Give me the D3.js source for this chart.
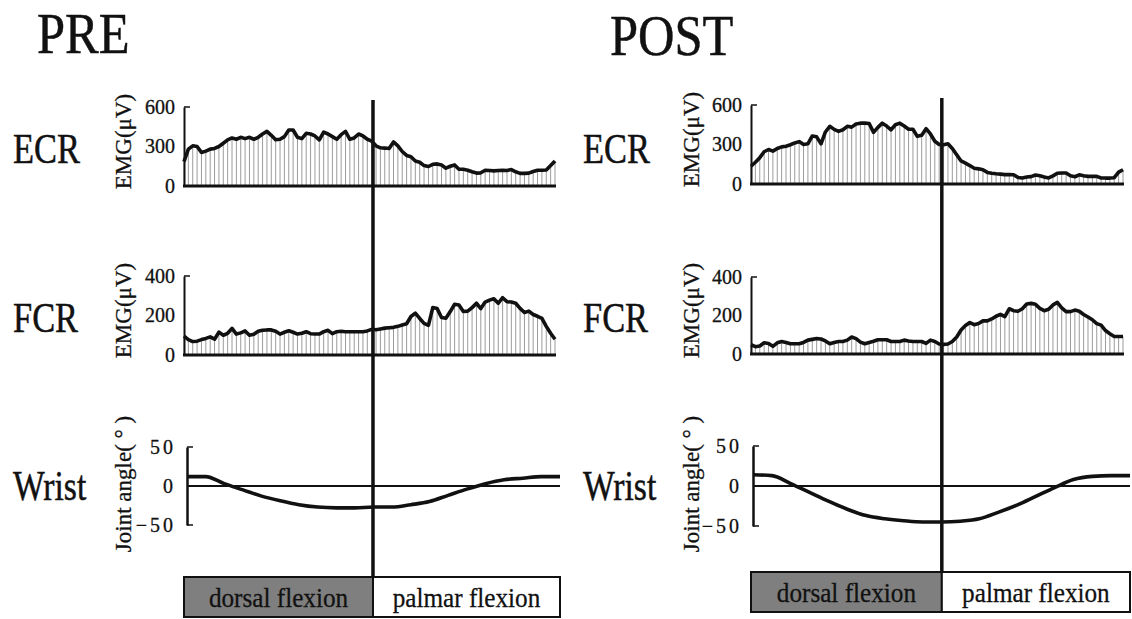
<!doctype html>
<html>
<head>
<meta charset="UTF-8">
<title>PRE / POST EMG</title>
<script src="https://d3js.org/d3.v7.min.js"></script>
<style>
  body { margin: 0; background: #fff; }
  text { font-family: "Liberation Serif", "Times New Roman", serif; fill: #111; }
</style>
</head>
<body>
<script>
// ---- data ----
var conditions = ["PRE", "POST"];
var muscles = ["ECR", "FCR", "Wrist"];
var phases = ["dorsal flexion", "palmar flexion"];
var ecrTicks = [0, 300, 600];
var fcrTicks = [0, 200, 400];
var angleTicks = [-50, 0, 50];

// EMG (µV), 86 samples over one movement cycle
var preECR = [185,280,305,300,255,265,280,285,300,325,350,365,355,370,360,370,355,370,395,415,
  385,352,355,375,425,425,370,360,400,395,380,350,410,395,375,355,390,415,355,365,
  395,380,355,340,305,290,288,285,335,305,262,232,222,190,180,155,148,165,168,160,
  135,150,160,127,127,120,108,98,100,120,118,115,118,120,118,125,108,96,96,98,
  110,120,120,122,155,190];
var preFCR = [96,78,68,70,78,84,92,80,116,100,110,135,106,112,122,100,105,120,125,127,
  127,120,106,115,123,115,106,110,118,108,106,106,118,125,108,118,120,118,118,118,
  118,118,122,130,128,132,136,138,140,145,152,158,195,212,185,160,150,240,235,190,
  186,220,257,253,220,222,240,262,235,268,278,285,262,290,270,268,262,236,215,222,
  205,196,185,145,110,80];
var postECR = [135,165,200,245,262,250,270,282,287,298,312,322,300,305,365,358,305,395,438,415,
  400,412,438,432,455,462,462,460,392,430,462,440,412,450,462,440,416,416,362,370,
  420,380,325,300,298,305,270,222,175,158,140,120,115,108,88,82,78,75,71,71,
  70,50,46,53,56,68,62,53,46,62,82,84,83,62,55,70,62,58,58,58,
  46,45,45,48,90,108];
var postFCR = [48,38,42,58,55,40,58,65,60,53,53,53,60,72,76,80,78,68,53,60,
  65,65,72,88,80,62,53,60,66,74,74,74,65,65,65,72,68,65,65,65,
  55,72,65,52,50,52,65,88,125,148,163,152,158,172,172,182,196,206,194,235,
  225,222,235,260,263,258,237,225,232,255,268,240,220,220,228,222,205,192,178,158,
  150,122,105,91,91,91];
// wrist joint angle (deg), 21 samples over the same cycle
var preWrist = [12,12,3,-5,-13,-19,-24,-27,-28,-28,-27,-27,-24,-20,-12,-4,3,8,10,12,12];
var postWrist = [14,13,3,-8,-19,-29,-37,-41,-43.5,-45,-45,-44,-41,-33,-24,-13,-2,8,12,13,13];
// sample index at which dorsal flexion turns into palmar flexion
var preSplit = 43.3, postSplit = 43.6;

// ---- layout ----
var W = 1132, H = 619;
var layout = [
  { title: "PRE", tx: 37, ty: 53, labelX: 13, axisTitleX: 123, tickEnd: 175,
    x0: 184, x1: 555, wx0: 187, wx1: 560,
    ecr: [186, 107], fcr: [355, 276], wrist: [525, 447],
    divTop: 100, boxTop: 577, boxRight: 560,
    ecrData: preECR, fcrData: preFCR, wristData: preWrist, split: preSplit },
  { title: "POST", tx: 610, ty: 55, labelX: 583, axisTitleX: 691, tickEnd: 742,
    x0: 751, x1: 1123, wx0: 753, wx1: 1130,
    ecr: [184, 105], fcr: [354, 277], wrist: [526, 446],
    divTop: 98, boxTop: 572, boxRight: 1130,
    ecrData: postECR, fcrData: postFCR, wristData: postWrist, split: postSplit }
];

var svg = d3.select("body").append("svg").attr("width", W).attr("height", H);

function label(g, txt, x, y, size, sx, anchor) {
  return g.append("text")
    .attr("transform", "translate(" + x + "," + y + ") scale(" + sx + ",1)")
    .attr("font-size", size)
    .attr("text-anchor", anchor || "start")
    .attr("stroke", "#111").attr("stroke-width", 0.5)
    .text(txt);
}

function yTitle(g, txt, x, y, size) {
  g.append("text")
    .attr("transform", "translate(" + x + "," + y + ") rotate(-90)")
    .attr("font-size", size)
    .attr("text-anchor", "middle")
    .attr("dominant-baseline", "central")
    .attr("stroke", "#111").attr("stroke-width", 0.3)
    .text(txt);
}

function emgPanel(g, L, data, px, ticks, muscle, labelY) {
  var n = data.length;
  var x = d3.scaleLinear().domain([0, n - 1]).range([L.x0, L.x1]);
  var y = d3.scaleLinear().domain([0, ticks[ticks.length - 1]]).range(px);

  // hatch
  g.append("g").selectAll("line").data(data).join("line")
    .attr("x1", function(d, i) { return x(i); })
    .attr("x2", function(d, i) { return x(i); })
    .attr("y1", y(0))
    .attr("y2", function(d) { return y(d); })
    .attr("stroke", "#9c9c9c").attr("stroke-width", 1);

  var ax = d3.axisLeft(y).tickValues(ticks).tickSize(0).tickPadding(L.x0 - L.tickEnd);
  var a = g.append("g").attr("transform", "translate(" + L.x0 + ",0)").call(ax);
  a.select(".domain").attr("stroke", "#111").attr("stroke-width", 2);
  a.selectAll("text").attr("font-size", 20).attr("font-family", "Liberation Serif, serif")
    .attr("fill", "#111").attr("stroke", "#111").attr("stroke-width", 0.3);
  g.append("line").attr("x1", L.x0).attr("x2", L.x0 + 6)
    .attr("y1", y(ticks[ticks.length - 1])).attr("y2", y(ticks[ticks.length - 1]))
    .attr("stroke", "#111").attr("stroke-width", 1.5);

  g.append("path").datum(data)
    .attr("d", d3.line().x(function(d, i) { return x(i); }).y(function(d) { return y(d); }))
    .attr("fill", "none").attr("stroke", "#111").attr("stroke-width", 3.6)
    .attr("stroke-linejoin", "round");

  // baseline
  g.append("line").attr("x1", L.x0 - 1).attr("x2", L.x1 + 1)
    .attr("y1", y(0)).attr("y2", y(0))
    .attr("stroke", "#111").attr("stroke-width", 3);

  label(g, muscle, L.labelX, labelY, 42, 0.82);
  yTitle(g, "EMG(\u03bcV)", L.axisTitleX, (px[0] + px[1]) / 2 - 5, 23);
  return x;
}

layout.forEach(function(L) {
  var g = svg.append("g");
  label(g, L.title, L.tx, L.ty, 58, 0.87);

  var xe = emgPanel(g, L, L.ecrData, L.ecr, ecrTicks, muscles[0], 163);
  emgPanel(g, L, L.fcrData, L.fcr, fcrTicks, muscles[1], 332);

  // wrist angle
  var wd = L.wristData;
  var xw = d3.scaleLinear().domain([0, wd.length - 1]).range([L.wx0, L.wx1]);
  var yw = d3.scaleLinear().domain([-50, 50]).range(L.wrist);
  var ax = d3.axisLeft(yw).tickValues(angleTicks).tickSize(0).tickPadding(L.x0 - L.tickEnd + 2);
  var a = g.append("g").attr("transform", "translate(" + L.wx0 + ",0)").call(ax);
  a.select(".domain").attr("stroke", "#111").attr("stroke-width", 2.5);
  a.selectAll("text").attr("font-size", 20).attr("letter-spacing", 3)
    .attr("font-family", "Liberation Serif, serif").attr("fill", "#111")
    .attr("stroke", "#111").attr("stroke-width", 0.3);
  g.selectAll(null).data([-50, 50]).enter().append("line")
    .attr("x1", L.wx0).attr("x2", L.wx0 + 6)
    .attr("y1", function(d) { return yw(d); }).attr("y2", function(d) { return yw(d); })
    .attr("stroke", "#111").attr("stroke-width", 1.5);
  g.append("line").attr("x1", L.wx0).attr("x2", L.wx1)
    .attr("y1", yw(0)).attr("y2", yw(0)).attr("stroke", "#111").attr("stroke-width", 2);
  g.append("path").datum(wd)
    .attr("d", d3.line().curve(d3.curveMonotoneX)
      .x(function(d, i) { return xw(i); }).y(function(d) { return yw(d); }))
    .attr("fill", "none").attr("stroke", "#111").attr("stroke-width", 3.6);
  label(g, muscles[2], L.labelX, 500, 42, 0.8);
  yTitle(g, "Joint angle(  \u00b0  )", L.axisTitleX, 484, 23);

  // phase boxes
  var xs = xe(L.split);
  var boxes = [
    { name: phases[0], x: L.x0, w: xs - L.x0, fill: "#7f7f7f" },
    { name: phases[1], x: xs, w: L.boxRight - xs, fill: "#fff" }
  ];
  g.selectAll(null).data(boxes).enter().append("rect")
    .attr("x", function(d) { return d.x; }).attr("y", L.boxTop)
    .attr("width", function(d) { return d.w; }).attr("height", 40)
    .attr("fill", function(d) { return d.fill; })
    .attr("stroke", "#111").attr("stroke-width", 2);
  boxes.forEach(function(b) {
    label(g, b.name, b.x + b.w / 2, L.boxTop + 30, 28, 0.9, "middle")
      .attr("stroke-width", 0.3);
  });

  // divider
  g.append("line").attr("x1", xs).attr("x2", xs)
    .attr("y1", L.divTop).attr("y2", L.boxTop)
    .attr("stroke", "#111").attr("stroke-width", 3.5);
});
</script>
</body>
</html>
